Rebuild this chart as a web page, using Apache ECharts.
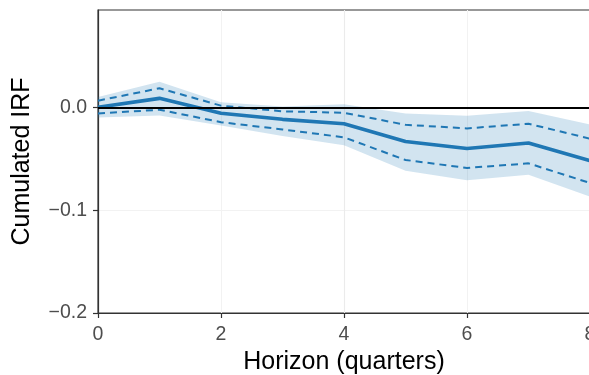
<!DOCTYPE html>
<html>
<head>
<meta charset="utf-8">
<script src="https://cdn.jsdelivr.net/npm/echarts@6/dist/echarts.min.js"></script>
<style>
  html, body { margin: 0; padding: 0; background: #fff; }
  #chart { width: 589px; height: 375px; }
</style>
</head>
<body>
<div id="chart"></div>
<script>
// Cumulated impulse response over the horizon, with two confidence bands
const horizon = [0, 1, 2, 3, 4, 5, 6, 7, 8];
const irf = [0, 0.0087, -0.0058, -0.0117, -0.0160, -0.0333, -0.0400, -0.0347, -0.0520];
// inner (dashed) interval
const innerUpper = [0.0064, 0.0185, 0.0016, -0.0039, -0.0053, -0.0170, -0.0205, -0.0160, -0.0305];
const innerLower = [-0.0060, -0.0024, -0.0145, -0.0215, -0.0292, -0.0512, -0.0590, -0.0545, -0.0736];
// outer (shaded) interval
const outerUpper = [0.0100, 0.0248, 0.0050, 0.0007, 0.0030, -0.0060, -0.0083, -0.0037, -0.0168];
const outerLower = [-0.0098, -0.0080, -0.0178, -0.0280, -0.0370, -0.0617, -0.0710, -0.0655, -0.0868];
// axis ticks
const xTicks = [0, 2, 4, 6, 8];
const yTicks = [-0.2, -0.1, 0.0];

const blue = '#1f77b4';
const font = '"Liberation Sans", Arial, Helvetica, sans-serif';

const pairs = (ys) => horizon.map((x, i) => [x, ys[i]]);
const bandRows = horizon.map((x, i) => [x, outerLower[i], outerUpper[i]]);

// Shaded ribbon: one polygon through the upper edge, then back along the lower edge
function renderRibbon(params, api) {
  if (params.dataIndex !== 0) return null;
  const upper = bandRows.map((r) => api.coord([r[0], r[2]]));
  const lower = bandRows.map((r) => api.coord([r[0], r[1]])).reverse();
  return {
    type: 'polygon',
    shape: { points: upper.concat(lower) },
    style: { fill: blue, opacity: 0.2 },
    silent: true
  };
}

const chart = echarts.init(document.getElementById('chart'), null, { renderer: 'canvas' });

chart.setOption({
  animation: false,
  backgroundColor: '#ffffff',
  grid: {
    left: 98, right: -1, top: 10, bottom: 62,
    outerBoundsMode: 'none',
    containLabel: false,
    show: true, borderColor: '#333333', borderWidth: 1.2, backgroundColor: 'transparent'
  },
  xAxis: {
    type: 'value',
    min: 0, max: 8, interval: 1,
    name: 'Horizon (quarters)',
    nameLocation: 'middle',
    nameGap: 31,
    nameTextStyle: { fontFamily: font, fontSize: 25, color: '#000000' },
    axisLine: { show: true, onZero: false, lineStyle: { color: '#333333', width: 1.2 } },
    axisTick: { show: true, length: 5, customValues: xTicks, lineStyle: { color: '#333333', width: 1.2 } },
    axisLabel: {
      customValues: xTicks,
      margin: 12,
      fontFamily: font, fontSize: 19.5, color: '#4d4d4d',
      formatter: (v) => String(v)
    },
    splitLine: { show: true, lineStyle: { color: ['#ebebeb', '#f2f2f2'], width: 1.1 } }
  },
  yAxis: {
    type: 'value',
    min: -0.2, max: 0.0946, interval: 0.05,
    name: 'Cumulated IRF',
    nameLocation: 'middle',
    nameGap: 63,
    nameRotate: 90,
    nameTextStyle: { fontFamily: font, fontSize: 25, color: '#000000' },
    axisLine: { show: true, lineStyle: { color: '#333333', width: 1.2 } },
    axisTick: { show: true, length: 5, customValues: yTicks, lineStyle: { color: '#333333', width: 1.2 } },
    axisLabel: {
      customValues: yTicks,
      margin: 11,
      fontFamily: font, fontSize: 19.5, color: '#4d4d4d',
      formatter: (v) => v.toFixed(1).replace('-', '\u2212')
    },
    splitLine: { show: true, lineStyle: { color: ['#ebebeb', '#f2f2f2'], width: 1.1 } }
  },
  series: [
    {
      name: 'outer-band',
      type: 'custom',
      renderItem: renderRibbon,
      data: bandRows,
      encode: { x: 0, y: [1, 2] },
      clip: true,
      silent: true,
      z: 1
    },
    {
      name: 'inner-upper',
      type: 'line',
      data: pairs(innerUpper),
      symbol: 'none',
      lineStyle: { color: blue, width: 2, type: [7, 5] },
      z: 2
    },
    {
      name: 'inner-lower',
      type: 'line',
      data: pairs(innerLower),
      symbol: 'none',
      lineStyle: { color: blue, width: 2, type: [7, 5] },
      z: 2
    },
    {
      name: 'irf',
      type: 'line',
      data: pairs(irf),
      symbol: 'none',
      lineStyle: { color: blue, width: 3.6 },
      z: 3,
      markLine: {
        silent: true,
        symbol: 'none',
        label: { show: false },
        lineStyle: { color: '#000000', width: 2, type: 'solid' },
        data: [{ yAxis: 0 }],
        z: 4
      }
    }
  ]
});
</script>
</body>
</html>
